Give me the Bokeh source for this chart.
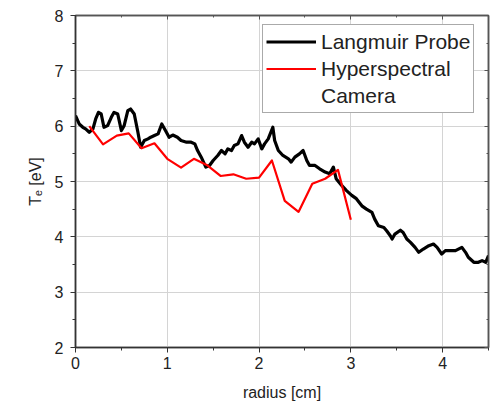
from bokeh.plotting import figure
from bokeh.models import Range1d, SingleIntervalTicker, LinearAxis, Legend, LegendItem
from bokeh.embed import file_html
from bokeh.resources import INLINE

# Langmuir probe (black)
lp_r = [0.00, 0.04, 0.08, 0.11, 0.15, 0.19, 0.22, 0.25, 0.28, 0.31, 0.35, 0.39, 0.42, 0.46,
        0.50, 0.53, 0.57, 0.60, 0.64, 0.68, 0.71, 0.75, 0.79, 0.82, 0.86, 0.90, 0.94, 0.98,
        1.02, 1.06, 1.11, 1.15, 1.21, 1.26, 1.30, 1.33, 1.37, 1.42, 1.46, 1.50, 1.55, 1.59,
        1.63, 1.66, 1.70, 1.73, 1.77, 1.81, 1.84, 1.88, 1.92, 1.95, 1.99, 2.03, 2.06, 2.10,
        2.15, 2.17, 2.21, 2.26, 2.32, 2.35, 2.39, 2.44, 2.48, 2.52, 2.55, 2.61, 2.66, 2.72,
        2.77, 2.81, 2.84, 2.90, 2.95, 3.01, 3.06, 3.12, 3.17, 3.23, 3.26, 3.30, 3.36, 3.39,
        3.43, 3.45, 3.48, 3.54, 3.57, 3.61, 3.65, 3.70, 3.74, 3.79, 3.85, 3.90, 3.94, 3.99,
        4.03, 4.08, 4.14, 4.21, 4.25, 4.28, 4.34, 4.39, 4.43, 4.47, 4.50]
lp_te = [6.19, 6.04, 5.98, 5.95, 5.89, 5.95, 6.13, 6.25, 6.22, 5.98, 6.01, 6.16, 6.25, 6.22,
         5.92, 6.01, 6.28, 6.31, 6.22, 5.89, 5.62, 5.74, 5.77, 5.80, 5.83, 5.86, 6.04, 5.92,
         5.80, 5.84, 5.80, 5.74, 5.71, 5.71, 5.68, 5.56, 5.44, 5.26, 5.29, 5.38, 5.47, 5.56,
         5.50, 5.59, 5.56, 5.65, 5.68, 5.83, 5.71, 5.62, 5.71, 5.68, 5.77, 5.59, 5.68, 5.77,
         5.98, 5.74, 5.56, 5.47, 5.41, 5.35, 5.44, 5.50, 5.56, 5.38, 5.29, 5.29, 5.23, 5.17,
         5.14, 5.26, 5.05, 4.93, 4.84, 4.75, 4.69, 4.56, 4.50, 4.44, 4.32, 4.20, 4.17, 4.11,
         4.02, 3.96, 4.05, 4.12, 4.08, 3.96, 3.90, 3.81, 3.72, 3.78, 3.84, 3.87, 3.81, 3.69,
         3.75, 3.75, 3.75, 3.81, 3.72, 3.63, 3.54, 3.54, 3.57, 3.54, 3.66]

# Hyperspectral camera (red)
hs_r = [0.15, 0.30, 0.45, 0.58, 0.72, 0.86, 1.00, 1.15, 1.29, 1.43, 1.58, 1.72, 1.86, 2.00,
        2.14, 2.28, 2.43, 2.58, 2.72, 2.86, 3.00]
hs_te = [6.00, 5.67, 5.83, 5.87, 5.60, 5.69, 5.41, 5.25, 5.41, 5.30, 5.10, 5.13, 5.05, 5.07,
         5.38, 4.65, 4.45, 4.96, 5.05, 5.21, 4.31]

x_label = "radius [cm]"
y_label = "T\u2091 [eV]"
series_names = ["Langmuir Probe", "Hyperspectral", "Camera"]

FONT = "Liberation Sans"

p = figure(width=500, height=411, output_backend="svg", toolbar_location=None, title=None,
           x_range=Range1d(0, 4.5), y_range=Range1d(2, 8),
           min_border_left=75, min_border_right=12, min_border_top=15, min_border_bottom=64)
p.background_fill_color = "white"
p.border_fill_color = "white"
p.outline_line_color = "#444444"
p.outline_line_width = 1.5

p.xaxis.ticker = SingleIntervalTicker(interval=1, num_minor_ticks=2)
p.yaxis.ticker = SingleIntervalTicker(interval=1, num_minor_ticks=2)
p.xgrid.ticker = p.xaxis.ticker
p.ygrid.ticker = p.yaxis.ticker
p.grid.grid_line_color = "#d4d4d4"
p.grid.grid_line_width = 1

for ax in (p.xaxis, p.yaxis):
    ax.axis_line_color = "#333333"
    ax.axis_line_width = 1.5
    ax.major_tick_line_color = "#333333"
    ax.minor_tick_line_color = "#333333"
    ax.major_tick_out = 5
    ax.major_tick_in = 0
    ax.minor_tick_out = 3
    ax.minor_tick_in = 0
    ax.major_label_text_font = FONT
    ax.major_label_text_font_size = "16px"
    ax.major_label_text_color = "#222222"
    ax.axis_label_text_font = FONT
    ax.axis_label_text_font_size = "16px"
    ax.axis_label_text_font_style = "normal"
    ax.axis_label_text_color = "#222222"

p.xaxis.axis_label = x_label
p.yaxis.axis_label = y_label
p.xaxis.major_label_standoff = 4
p.yaxis.major_label_standoff = 7
p.xaxis.axis_label_standoff = 12
p.yaxis.axis_label_standoff = 8

for loc in ("above", "right"):
    ax = LinearAxis(ticker=SingleIntervalTicker(interval=1, num_minor_ticks=2))
    ax.axis_line_color = "#555555"
    ax.axis_line_width = 1.5
    ax.major_tick_in = 4
    ax.major_tick_out = 0
    ax.minor_tick_in = 2
    ax.minor_tick_out = 0
    ax.major_tick_line_color = "#555555"
    ax.minor_tick_line_color = "#555555"
    ax.major_label_text_color = None
    p.add_layout(ax, loc)

r1 = p.line(lp_r, lp_te, line_color="black", line_width=3.2, line_join="round")
r2 = p.line(hs_r, hs_te, line_color="#ff0000", line_width=2.2, line_join="round")
r3 = p.line([], [], line_alpha=0)

legend = Legend(items=[LegendItem(label=series_names[0], renderers=[r1]),
                       LegendItem(label=series_names[1], renderers=[r2]),
                       LegendItem(label=series_names[2], renderers=[r3])],
                location=(187, 234), label_text_font=FONT, label_text_font_size="21px",
                label_text_color="#222222",
                glyph_width=50, glyph_height=27, label_height=27, spacing=0,
                padding=3, margin=0, border_line_color="#555555", border_line_width=1.2,
                label_standoff=5, background_fill_alpha=1.0)
p.add_layout(legend)

open("out.html", "w").write(file_html(p, INLINE))
